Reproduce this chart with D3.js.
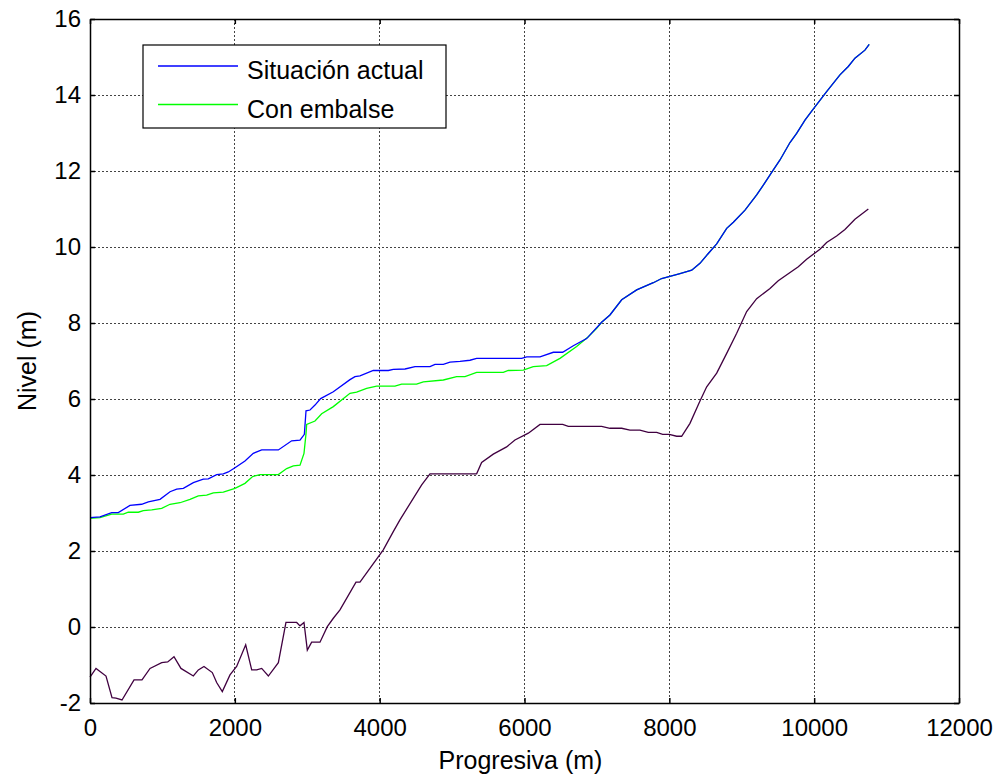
<!DOCTYPE html>
<html>
<head>
<meta charset="utf-8">
<script src="https://cdn.jsdelivr.net/npm/d3@7"></script>
<style>
  html, body { margin: 0; padding: 0; background: #fff; }
  svg { display: block; font-family: "Liberation Sans", Arial, sans-serif; }
</style>
</head>
<body>
<svg id="chart" width="998" height="778"></svg>
<script>
// Progresiva (m) and water level (m) for the current situation
const actualX = [0, 138, 299, 391, 552, 713, 805, 967, 1105, 1197, 1289, 1427, 1565, 1634, 1749, 1841, 1910, 2002, 2140, 2255, 2371, 2601, 2785, 2900, 2960, 2983, 3038, 3107, 3185, 3360, 3590, 3659, 3728, 3912, 4120, 4188, 4350, 4488, 4695, 4764, 4879, 4971, 5109, 5247, 5339, 5961, 6030, 6214, 6398, 6527, 6674, 6858, 7065, 7180, 7342, 7549, 7779, 7894, 8147, 8309, 8423, 8538, 8654, 8792, 8884, 9045, 9206, 9298, 9436, 9528, 9666, 9758, 9873, 9979, 10172, 10356, 10471, 10563, 10701, 10760];
const actualY = [2.88, 2.90, 3.01, 3.01, 3.20, 3.23, 3.29, 3.36, 3.56, 3.63, 3.65, 3.80, 3.89, 3.90, 4.01, 4.03, 4.08, 4.19, 4.37, 4.57, 4.66, 4.66, 4.90, 4.92, 5.07, 5.69, 5.71, 5.84, 6.01, 6.19, 6.51, 6.59, 6.61, 6.75, 6.75, 6.78, 6.79, 6.85, 6.85, 6.91, 6.91, 6.97, 6.99, 7.02, 7.07, 7.07, 7.11, 7.11, 7.23, 7.23, 7.40, 7.59, 8.02, 8.21, 8.61, 8.87, 9.06, 9.17, 9.30, 9.39, 9.57, 9.83, 10.08, 10.49, 10.65, 10.97, 11.37, 11.63, 12.03, 12.29, 12.75, 12.99, 13.34, 13.61, 14.09, 14.53, 14.75, 14.97, 15.18, 15.33];

// Water level with the reservoir
const embalseX = [0, 138, 299, 460, 529, 667, 736, 852, 990, 1105, 1243, 1381, 1496, 1611, 1703, 1841, 2002, 2140, 2246, 2348, 2601, 2716, 2808, 2900, 2955, 2983, 2992, 3107, 3199, 3360, 3590, 3682, 3820, 3958, 4211, 4303, 4510, 4603, 4879, 5063, 5178, 5339, 5707, 5776, 5983, 6121, 6306, 6490, 6720, 6881, 6997, 7065, 7180, 7342, 7549, 7779, 7894, 8147, 8309, 8423, 8538, 8654, 8792, 8884, 9045, 9206, 9298, 9436, 9528, 9666, 9758, 9873, 9979, 10172, 10356, 10471, 10563, 10701, 10760];
const embalseY = [2.86, 2.88, 2.97, 2.97, 3.02, 3.02, 3.06, 3.08, 3.12, 3.23, 3.27, 3.36, 3.45, 3.47, 3.53, 3.55, 3.65, 3.78, 3.96, 4.01, 4.01, 4.17, 4.24, 4.26, 4.57, 5.09, 5.33, 5.42, 5.61, 5.80, 6.15, 6.18, 6.28, 6.34, 6.34, 6.39, 6.39, 6.45, 6.50, 6.59, 6.59, 6.70, 6.70, 6.75, 6.76, 6.85, 6.88, 7.07, 7.38, 7.64, 7.86, 8.02, 8.21, 8.61, 8.87, 9.06, 9.17, 9.30, 9.39, 9.57, 9.83, 10.08, 10.49, 10.65, 10.97, 11.37, 11.63, 12.03, 12.29, 12.75, 12.99, 13.34, 13.61, 14.09, 14.53, 14.75, 14.97, 15.18, 15.33];

// River bed elevation
const lechoX = [0, 83, 221, 304, 359, 442, 608, 718, 829, 990, 1073, 1160, 1256, 1427, 1496, 1574, 1689, 1749, 1827, 1933, 2025, 2150, 2233, 2302, 2371, 2463, 2601, 2706, 2854, 2900, 2955, 3001, 3061, 3176, 3277, 3360, 3452, 3673, 3728, 4050, 4188, 4280, 4580, 4695, 5339, 5408, 5569, 5753, 5868, 6053, 6214, 6527, 6605, 7065, 7180, 7342, 7456, 7594, 7709, 7825, 7908, 7999, 8101, 8170, 8285, 8423, 8516, 8654, 8792, 8930, 9068, 9206, 9390, 9504, 9781, 9896, 10080, 10172, 10310, 10425, 10563, 10748];
const lechoY = [-1.32, -1.09, -1.29, -1.86, -1.87, -1.92, -1.39, -1.39, -1.09, -0.94, -0.92, -0.78, -1.09, -1.29, -1.13, -1.04, -1.20, -1.46, -1.70, -1.26, -1.04, -0.47, -1.13, -1.13, -1.09, -1.29, -0.94, 0.12, 0.12, 0.03, 0.12, -0.61, -0.40, -0.40, 0.01, 0.23, 0.45, 1.18, 1.18, 2.03, 2.51, 2.82, 3.74, 4.03, 4.03, 4.33, 4.55, 4.74, 4.92, 5.10, 5.33, 5.33, 5.28, 5.28, 5.23, 5.23, 5.18, 5.18, 5.12, 5.12, 5.07, 5.07, 5.02, 5.02, 5.36, 5.95, 6.32, 6.68, 7.20, 7.73, 8.30, 8.64, 8.91, 9.11, 9.48, 9.68, 9.94, 10.12, 10.29, 10.46, 10.73, 11.0];

const xTicks = [0, 2000, 4000, 6000, 8000, 10000, 12000];
const yTicks = [-2, 0, 2, 4, 6, 8, 10, 12, 14, 16];
const legendLabels = ["Situación actual", "Con embalse"];

const svg = d3.select("#chart");
const plotL = 90, plotR = 959, plotT = 19, plotB = 703;

const x = d3.scaleLinear().domain([0, 12000]).range([plotL, plotR]);
const y = d3.scaleLinear().domain([-2, 16]).range([plotB, plotT]);

// Dotted grid
const grid = svg.append("g").attr("stroke", "#444").attr("stroke-width", 1)
  .attr("stroke-dasharray", "2,2").attr("shape-rendering", "crispEdges");
grid.selectAll("line.gx").data(xTicks.slice(1, -1)).join("line")
  .attr("x1", d => x(d)).attr("x2", d => x(d)).attr("y1", plotT).attr("y2", plotB);
grid.selectAll("line.gy").data(yTicks.slice(1, -1)).join("line")
  .attr("y1", d => y(d)).attr("y2", d => y(d)).attr("x1", plotL).attr("x2", plotR);

// Series lines
const series = [
  { xs: embalseX, ys: embalseY, color: "#00ff00" },
  { xs: actualX, ys: actualY, color: "#0000ff" },
  { xs: lechoX, ys: lechoY, color: "#400040" }
];
const line = d3.line().x(d => x(d[0])).y(d => y(d[1]));
series.forEach(s => {
  svg.append("path")
    .datum(s.xs.map((v, i) => [v, s.ys[i]]))
    .attr("fill", "none").attr("stroke", s.color).attr("stroke-width", 1.3)
    .attr("d", line);
});

// Axes with inward ticks on all four sides
const tickLen = 5;
const fmt = d => String(d);
svg.append("g").attr("transform", `translate(0,${plotB})`)
  .call(d3.axisBottom(x).tickValues(xTicks).tickFormat(fmt).tickSizeInner(-tickLen).tickSizeOuter(0).tickPadding(16));
svg.append("g").attr("transform", `translate(0,${plotT})`)
  .call(d3.axisTop(x).tickValues(xTicks).tickFormat("").tickSizeInner(-tickLen).tickSizeOuter(0));
svg.append("g").attr("transform", `translate(${plotL},0)`)
  .call(d3.axisLeft(y).tickValues(yTicks).tickFormat(fmt).tickSizeInner(-tickLen).tickSizeOuter(0).tickPadding(9));
svg.append("g").attr("transform", `translate(${plotR},0)`)
  .call(d3.axisRight(y).tickValues(yTicks).tickFormat("").tickSizeInner(-tickLen).tickSizeOuter(0));

svg.selectAll(".domain").attr("stroke", "#000").attr("stroke-width", 1.5);
svg.selectAll(".tick line").attr("stroke", "#000").attr("stroke-width", 1.5);
svg.selectAll(".tick text").attr("font-size", 24).attr("fill", "#000")
  .attr("font-family", "'Liberation Sans', Arial, sans-serif");

// Axis titles
svg.append("text").attr("x", (plotL + plotR) / 2 - 4).attr("y", 769)
  .attr("text-anchor", "middle").attr("font-size", 25).text("Progresiva (m)");
svg.append("text").attr("transform", `translate(36,${(plotT + plotB) / 2}) rotate(-90)`)
  .attr("text-anchor", "middle").attr("font-size", 25).text("Nivel (m)");

// Legend
const lg = svg.append("g");
lg.append("rect").attr("x", 143).attr("y", 45).attr("width", 303).attr("height", 83)
  .attr("fill", "#fff").attr("stroke", "#000").attr("stroke-width", 1.2);
const lgColors = ["#0000ff", "#00ff00"];
const lgRows = [66, 104.5];
legendLabels.forEach((t, i) => {
  lg.append("line").attr("x1", 158).attr("x2", 238).attr("y1", lgRows[i]).attr("y2", lgRows[i])
    .attr("stroke", lgColors[i]).attr("stroke-width", 1.3);
  lg.append("text").attr("x", 247).attr("y", lgRows[i] + 13).attr("font-size", 25).text(t);
});
</script>
</body>
</html>
